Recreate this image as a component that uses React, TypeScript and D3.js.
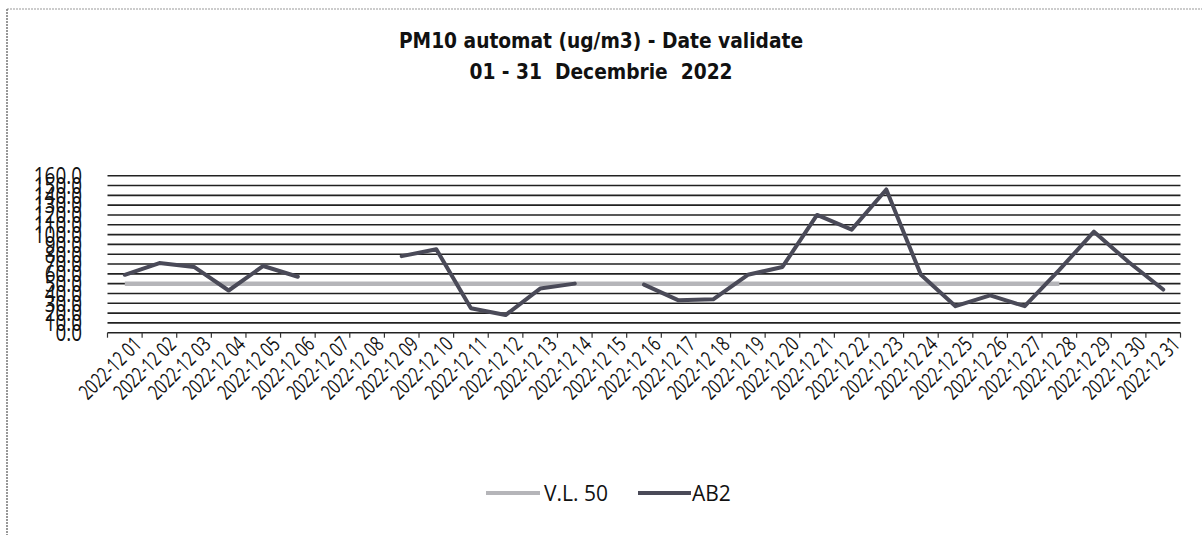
import React from "react";
import * as d3 from "d3";

const days: string[] = Array.from({ length: 31 }, (_, i) => `2022-12 ${String(i + 1).padStart(2, "0")}`);
const ab2: (number | null)[] = [
  59, 71, 67, 43, 68, 57, null, null, 78, 85,
  25, 18, 45, 50, null, 49, 33, 34, 59, 67,
  120, 105, 146, 59, 27, 38, 27, 64, 103, 72, 44,
];
const vl50: (number | null)[] = [
  50, 50, 50, 50, 50, 50, 50, 50, 50, 50,
  50, 50, 50, 50, 50, 50, 50, 50, 50, 50,
  50, 50, 50, 50, 50, 50, 50, 50, null, null, null,
];
const yTicks: number[] = [0, 10, 20, 30, 40, 50, 60, 70, 80, 90, 100, 110, 120, 130, 140, 150, 160];
const titleLines: string[] = ["PM10 automat (ug/m3) - Date validate", "01 - 31  Decembrie  2022"];
const legendItems = [
  { name: "V.L. 50", color: "#b5b5b9" },
  { name: "AB2", color: "#4a4a58" },
];

const W = 1202;
const H = 535;
const left = 107.5;
const right = 1180.5;
const top = 175.7;
const bottom = 332.7;
const labelFont = "'Open Sans', 'Liberation Sans', sans-serif";

export default function App() {
  const x = d3.scaleBand<string>().domain(days).range([left, right]).padding(0);
  const y = d3.scaleLinear().domain([0, 160]).range([bottom, top]);
  const cx = (i: number) => (x(days[i]) as number) + x.bandwidth() / 2;

  const line = d3
    .line<number | null>()
    .defined((d) => d != null)
    .x((_, i) => cx(i))
    .y((d) => y(d as number));

  const boundaries = d3.range(days.length + 1).map((i) => left + i * x.bandwidth());

  return (
    <svg width={W} height={H} style={{ position: "absolute", left: 0, top: 0, background: "#fff" }}>
      <rect x={0} y={0} width={W} height={H} fill="#fff" />
      {/* frame */}
      <line x1={7} y1={9} x2={W} y2={9} stroke="#999" strokeWidth={1.2} strokeDasharray="2 1" />
      <line x1={7} y1={9} x2={7} y2={H} stroke="#777" strokeWidth={1.5} strokeDasharray="2 1" />

      {/* title */}
      <g transform="translate(601,0) scale(0.91,1)">
        <text
          textAnchor="middle"
          fontFamily="'DejaVu Sans', Verdana, sans-serif"
          fontWeight="bold"
          fontSize={20.5}
          fill="#111"
          style={{ whiteSpace: "pre" }}
        >
          <tspan x={0} y={48}>{titleLines[0]}</tspan>
          <tspan x={0} y={79}>{titleLines[1]}</tspan>
        </text>
      </g>

      {/* gridlines */}
      {yTicks.filter((t) => t > 0).map((t) => (
        <line key={t} x1={left} x2={right} y1={y(t)} y2={y(t)} stroke="#222" strokeWidth={1.6} />
      ))}
      {/* axis */}
      <line x1={left} x2={right} y1={bottom} y2={bottom} stroke="#222" strokeWidth={1.6} />
      {boundaries.map((bx, i) => (
        <line key={i} x1={bx} x2={bx} y1={bottom} y2={bottom + 5} stroke="#333" strokeWidth={1.2} />
      ))}

      {/* y labels */}
      {yTicks.map((t) => (
        <g key={t} transform={`translate(82,${y(t)}) scale(0.9,1.1)`}>
          <text x={0} y={0} dy="0.36em" textAnchor="end" fontFamily={labelFont} fontSize={21} fill="#111">
            {t.toFixed(1)}
          </text>
        </g>
      ))}

      {/* x labels */}
      {days.map((d, i) => (
        <text
          key={d}
          transform={`translate(${cx(i) + 18},${bottom + 13}) rotate(-45) scale(0.72,1)`}
          textAnchor="end"
          fontFamily={labelFont}
          fontSize={21}
          fill="#111"
          style={{ whiteSpace: "pre" }}
        >
          {d}
        </text>
      ))}

      {/* series */}
      <path d={line(vl50) ?? ""} fill="none" stroke={legendItems[0].color} strokeWidth={4.5} strokeLinejoin="round" />
      <path d={line(ab2) ?? ""} fill="none" stroke={legendItems[1].color} strokeWidth={4} strokeLinejoin="round" strokeLinecap="round" />

      {/* legend */}
      <line x1={486} x2={540} y1={493} y2={493} stroke={legendItems[0].color} strokeWidth={4} />
      <text x={544} y={493} dy="0.36em" fontFamily={labelFont} fontSize={21} fill="#111">
        {legendItems[0].name}
      </text>
      <line x1={638} x2={691} y1={493} y2={493} stroke={legendItems[1].color} strokeWidth={4} />
      <text x={692} y={493} dy="0.36em" fontFamily={labelFont} fontSize={21} fill="#111">
        {legendItems[1].name}
      </text>
    </svg>
  );
}
